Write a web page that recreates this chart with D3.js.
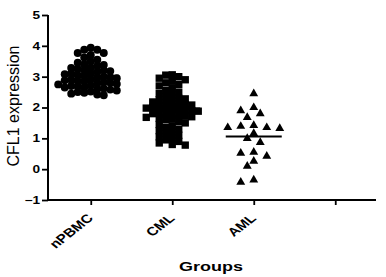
<!DOCTYPE html>
<html>
<head>
<meta charset="utf-8">
<script src="https://cdn.jsdelivr.net/npm/d3@7"></script>
<style>
  body { margin: 0; background: #fff; }
  text { font-family: "Liberation Sans", Arial, sans-serif; fill: #000; }
</style>
</head>
<body>
<div id="chart"></div>
<script>
// groups on the x axis (the fourth slot is empty in the original)
const groups = ['nPBMC', 'CML', 'AML', ''];
const yTicks = [-1, 0, 1, 2, 3, 4, 5];

// CFL1 expression values
const npbmcValues = [3.94, 3.87, 3.87, 3.77, 3.77, 3.7, 3.62, 3.55, 3.5, 3.45, 3.4, 3.38, 3.35, 3.3,
  3.28, 3.25, 3.22, 3.2, 3.18, 3.15, 3.12, 3.1, 3.08, 3.05, 3.03, 3.0, 2.98, 2.96, 2.95, 2.92, 2.9,
  2.88, 2.86, 2.85, 2.82, 2.8, 2.78, 2.76, 2.75, 2.72, 2.7, 2.68, 2.66, 2.65, 2.62, 2.6, 2.58, 2.55,
  2.52, 2.5, 2.48, 2.45, 2.42, 2.4];
const cmlValues = [3.06, 3.05, 3.0, 2.95, 2.9, 2.85, 2.8, 2.75, 2.7, 2.62, 2.55, 2.5, 2.45, 2.4, 2.35,
  2.3, 2.28, 2.25, 2.2, 2.18, 2.15, 2.12, 2.1, 2.08, 2.05, 2.02, 2.0, 1.98, 1.96, 1.94, 1.92, 1.9,
  1.88, 1.85, 1.82, 1.8, 1.78, 1.75, 1.72, 1.7, 1.68, 1.65, 1.62, 1.6, 1.55, 1.5, 1.45, 1.4, 1.35,
  1.3, 1.25, 1.2, 1.15, 1.1, 1.05, 1.0, 0.95, 0.9, 0.85, 0.8, 0.78];
const amlValues = [2.45, 2.0, 1.9, 1.8, 1.68, 1.39, 1.35, 1.35, 1.42, 1.32, 1.16, 0.87, 1.0, 0.52,
  0.55, 0.42, 0.26, 0.1, -0.42, -0.35];
const groupMeans = [3.03, 1.97, 1.06];

const width = 386, height = 277;
const margin = {top: 15, right: 10, bottom: 77, left: 48};
const textStretch = 1.3;   // the original's lettering is drawn wide

const svg = d3.select('#chart').append('svg')
    .attr('width', width)
    .attr('height', height);

const y = d3.scaleLinear()
    .domain([-1, 5])
    .range([height - margin.bottom, margin.top]);

const x = d3.scalePoint()
    .domain(groups)
    .range([margin.left + 2, width - margin.right])
    .padding(0.5);

// axes
const yAxis = svg.append('g')
    .attr('transform', `translate(${margin.left},0)`)
    .call(d3.axisLeft(y).tickValues(yTicks).tickSize(6).tickFormat(d3.format('d')));
yAxis.select('.domain').attr('stroke-width', 2).attr('d', `M0,${y(5)}V${y(-1)}`);
yAxis.selectAll('.tick line').attr('stroke-width', 1.8);
yAxis.selectAll('.tick text')
    .attr('font-size', 10.5)
    .attr('font-weight', 'bold')
    .attr('font-family', '"Liberation Sans", Arial, sans-serif')
    .attr('x', 0)
    .attr('transform', `translate(-8,0) scale(${textStretch},1)`);

const xAxis = svg.append('g')
    .attr('transform', `translate(0,${y(-1)})`)
    .call(d3.axisBottom(x).tickSize(5).tickSizeOuter(0));
xAxis.select('.domain').attr('stroke-width', 2)
    .attr('d', `M${margin.left - 1},0H${width - margin.right}`);
xAxis.selectAll('.tick line').attr('stroke-width', 1.8);
xAxis.selectAll('.tick text')
    .attr('font-size', 12)
    .attr('font-weight', 'bold')
    .attr('font-family', '"Liberation Sans", Arial, sans-serif')
    .attr('text-anchor', 'end')
    .attr('transform', `translate(-1,16) scale(1.27,1) rotate(-45)`)
    .attr('dy', '0.35em')
    .attr('y', 0);

// axis titles
svg.append('text')
    .attr('transform', `translate(19,106) rotate(-90)`)
    .attr('text-anchor', 'middle')
    .attr('font-size', 16)
    .text('CFL1 expression');

svg.append('text')
    .attr('transform', 'translate(211,271) scale(1.5,1)')
    .attr('text-anchor', 'middle')
    .attr('font-size', 12)
    .attr('font-weight', 'bold')
    .text('Groups');

// simple column scatter layout: spread points sideways when they would overlap
function swarm(values, cx, step, minDist) {
  const placed = [];
  values.slice().sort((a, b) => b - a).forEach(v => {
    const py = y(v);
    for (let k = 0; k < 40; k++) {
      const off = k === 0 ? 0 : Math.ceil(k / 2) * step * (k % 2 ? -1 : 1);
      const px = cx + off;
      if (placed.every(p => Math.hypot(p.x - px, p.y - py) >= minDist)) {
        placed.push({x: px, y: py, v: v});
        break;
      }
    }
  });
  return placed;
}

const series = [
  {values: npbmcValues, symbol: d3.symbolCircle, size: 50, step: 6.5, minDist: 5.5},
  {values: cmlValues, symbol: d3.symbolSquare, size: 54, step: 6.5, minDist: 5.5},
  {values: amlValues, symbol: d3.symbolTriangle, size: 34, step: 6.5, minDist: 8}
];

series.forEach((s, i) => {
  const cx = x(groups[i]);
  const pts = swarm(s.values, cx, s.step, s.minDist);
  svg.append('g').selectAll('path')
      .data(pts)
    .join('path')
      .attr('transform', d => `translate(${d.x},${d.y})`)
      .attr('d', d3.symbol().type(s.symbol).size(s.size))
      .attr('fill', '#000');

  svg.append('line')
      .attr('x1', cx - 28)
      .attr('x2', cx + 28)
      .attr('y1', y(groupMeans[i]))
      .attr('y2', y(groupMeans[i]))
      .attr('stroke', '#000')
      .attr('stroke-width', 1.8);
});
</script>
</body>
</html>
